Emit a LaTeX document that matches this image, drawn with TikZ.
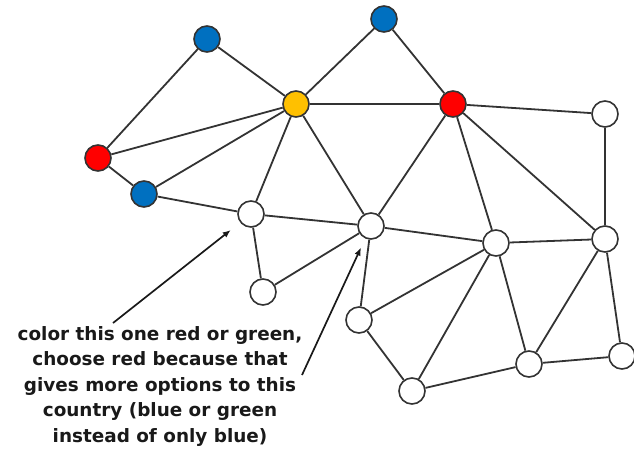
\documentclass[tikz,border=0pt]{standalone}
\usepackage{fontspec}
\setmainfont{DejaVu Sans}
\usetikzlibrary{arrows.meta}
\definecolor{edgegray}{HTML}{333333}
\definecolor{cblue}{HTML}{0070C0}
\definecolor{cred}{HTML}{FF0000}
\definecolor{cyellow}{HTML}{FFC000}
\tikzset{
  vtx/.style={circle, draw=edgegray, line width=1.6pt, minimum size=26pt, inner sep=0pt, fill=white},
  blue vtx/.style={vtx, fill=cblue},
  red vtx/.style={vtx, fill=cred},
  yellow vtx/.style={vtx, fill=cyellow},
  link/.style={draw=edgegray, line width=1.8pt},
  pointer/.style={draw=black!90, line width=1.7pt, -{Latex[length=8pt,width=6.5pt]}},
  note/.style={align=center, font=\bfseries\fontsize{18.4}{25.5}\selectfont, text=black!90, inner sep=0pt}
}
\begin{document}
\begin{tikzpicture}[x=1pt, y=-1pt]
  \useasboundingbox (0,0) rectangle (634,450);

  % coloured countries
  \node[blue vtx]   (b1) at (207,39)  {};
  \node[blue vtx]   (b2) at (384,19)  {};
  \node[yellow vtx] (y)  at (296,104) {};
  \node[red vtx]    (r1) at (453,104) {};
  \node[red vtx]    (r2) at (98,158)  {};
  \node[blue vtx]   (b3) at (144,194) {};

  % uncoloured countries
  \node[vtx] (w1)  at (251,214) {};
  \node[vtx] (w2)  at (371,226) {};
  \node[vtx] (w3)  at (605,114) {};
  \node[vtx] (w4)  at (496,243) {};
  \node[vtx] (w5)  at (605,239) {};
  \node[vtx] (w6)  at (263,292) {};
  \node[vtx] (w7)  at (359,320) {};
  \node[vtx] (w8)  at (412,391) {};
  \node[vtx] (w9)  at (529,364) {};
  \node[vtx] (w10) at (622,356) {};

  % borders between neighbouring countries
  \foreach \a/\b in {b1/r2, b1/y, r2/y, r2/b3, b3/y, b3/w1, y/w1, y/w2, y/b2, y/r1,
                     b2/r1, r1/w2, r1/w4, r1/w5, r1/w3, w3/w5, w1/w2, w1/w6, w6/w2,
                     w2/w4, w2/w7, w4/w5, w4/w7, w4/w8, w4/w9, w5/w9, w5/w10,
                     w9/w10, w7/w8, w8/w9}
    \path[link] (\a) -- (\b);

  % annotation
  \node[note] (txt) at (160,386) {color this one red or green,\\choose red because that\\gives more options to this\\country (blue or green\\instead of only blue)};
  \coordinate (p1) at (113,323);
  \coordinate (p2) at (302,375);
  \draw[pointer, shorten >=12pt] (p1) -- (w1);
  \draw[pointer, shorten >=10pt] (p2) -- (w2);
\end{tikzpicture}
\end{document}
